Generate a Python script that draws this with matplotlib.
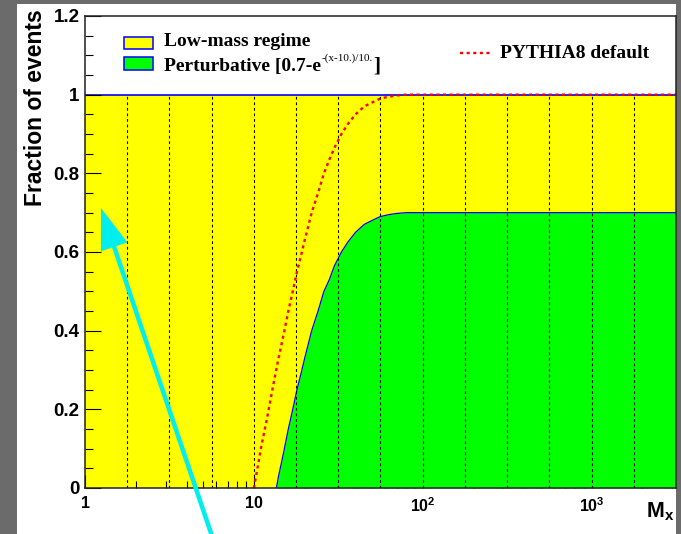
import matplotlib
matplotlib.use("Agg")
import matplotlib.pyplot as plt
from matplotlib.patches import Rectangle, FancyArrow
from matplotlib.lines import Line2D
from matplotlib.ticker import MultipleLocator, LogLocator, NullFormatter
from matplotlib.transforms import IdentityTransform

W, H = 681, 534

plt.rcParams["font.family"] = ["Liberation Sans", "DejaVu Sans"]
plt.rcParams["font.weight"] = "bold"
plt.rcParams["mathtext.fontset"] = "custom"
plt.rcParams["mathtext.rm"] = "Liberation Sans:bold"
plt.rcParams["mathtext.bf"] = "Liberation Sans:bold"

YELLOW = "#ffff00"
GREEN = "#00ff00"
BLUE = "#0000ff"
RED = "#ff0000"
CYAN = "#00eeee"

# x range of the histograms
x_lo, x_hi = 1.0, 10 ** 3.5

# PYTHIA8 default fraction (red dotted)
pythia_x = [10, 10.5, 11, 12, 13, 14, 15, 16, 17, 18, 19, 20, 22, 24, 26, 28, 30, 33, 36,
            40, 45, 50, 56, 63, 70, 80, 3162]
pythia_y = [0.0, 0.05, 0.10, 0.18, 0.26, 0.33, 0.39, 0.45, 0.50, 0.55, 0.59, 0.63, 0.70,
            0.75, 0.80, 0.835, 0.865, 0.90, 0.925, 0.95, 0.97, 0.98, 0.99, 0.995, 0.998,
            1.0, 1.0]

# perturbative fraction (green)
pert_x = [13.6, 14, 14.5, 15, 16, 17, 18, 19, 20, 22, 24, 26, 28, 30, 33, 36, 40, 45, 50,
          56, 63, 70, 80, 3162]
pert_y = [0.0, 0.03, 0.06, 0.09, 0.15, 0.20, 0.25, 0.29, 0.33, 0.40, 0.45, 0.50, 0.53,
          0.565, 0.60, 0.625, 0.65, 0.67, 0.68, 0.69, 0.695, 0.698, 0.70, 0.70]

# quarter-decade bin edges drawn as dashed lines
edges_x = [1.78, 3.16, 5.62, 10, 17.8, 31.6, 56.2, 100, 178, 316, 562, 1000, 1778]

y_ticks = [0, 0.2, 0.4, 0.6, 0.8, 1.0, 1.2]
y_ticklabels = ["0", "0.2", "0.4", "0.6", "0.8", "1", "1.2"]
x_ticks = [1, 10, 100, 1000]
x_ticklabels = ["1", "10", r"$\mathbf{10^{2}}$", r"$\mathbf{10^{3}}$"]


def fx(px):
    return px / W


def fy(py):
    return 1 - py / H


fig = plt.figure(figsize=(W / 100, H / 100), dpi=100, facecolor="#6b6b6b")
fig.patches.append(Rectangle((fx(17), 0), fx(676) - fx(17), fy(4), transform=fig.transFigure,
                             facecolor="white", edgecolor="none", zorder=-5))

ax = fig.add_axes([fx(85), fy(488), fx(676) - fx(85), fy(16) - fy(488)])
ax.set_xscale("log")
ax.set_xlim(x_lo, x_hi)
ax.set_ylim(0, 1.2)
ax.set_axisbelow(True)

# low-mass regime fills everything up to 1
ax.fill_between([x_lo, x_hi], 0, 1, color=YELLOW, lw=0, zorder=0.2)
ax.plot([x_lo, x_hi], [1, 1], color=BLUE, lw=1.2, zorder=0.3)

# perturbative part drawn over the axis ticks
ax.fill_between(pert_x, 0, pert_y, color=GREEN, lw=0, zorder=1)
ax.plot(pert_x, pert_y, color=BLUE, lw=0.9, zorder=1.1)

ax.vlines(edges_x, 0, 1, colors="black", lw=0.8, linestyles=(0, (2.5, 2.5)), zorder=1.5)

ax.plot(pythia_x, pythia_y, color=RED, lw=1.7, ls=(0, (1.3, 1.5)), zorder=2)

for s in ax.spines.values():
    s.set_linewidth(1.1)
    s.set_color("#222222")
    s.set_zorder(3)

ax.set_yticks(y_ticks)
ax.set_yticklabels(y_ticklabels)
ax.yaxis.set_minor_locator(MultipleLocator(0.05))
ax.set_xticks(x_ticks)
ax.set_xticklabels(x_ticklabels)
ax.xaxis.set_minor_locator(LogLocator(base=10, subs=range(2, 10)))
ax.xaxis.set_minor_formatter(NullFormatter())
ax.tick_params(axis="y", which="major", direction="in", length=11.5, width=0.8,
               labelsize=13.5, pad=4)
ax.tick_params(axis="y", which="minor", direction="in", length=5.8, width=0.8)
ax.tick_params(axis="x", which="major", direction="in", length=9.5, width=0.8,
               labelsize=11.5, pad=6)
ax.tick_params(axis="x", which="minor", direction="in", length=5, width=0.8)
ax.tick_params(top=False, right=False)

fig.text(fx(36), fy(9), "Fraction of events", rotation=90, ha="center", va="top",
         fontsize=16.5, fontweight="bold")
fig.text(fx(674), fy(517), r"M$_{\mathbf{x}}$", ha="right", va="baseline",
         fontsize=15.5, fontweight="bold")

# legend: fill boxes
for (top, bot), col in zip([(37, 49), (57, 70)], [YELLOW, GREEN]):
    fig.patches.append(Rectangle((fx(124), fy(bot)), fx(153) - fx(124), fy(top) - fy(bot),
                                 transform=fig.transFigure, facecolor=col,
                                 edgecolor=BLUE, lw=1.1, zorder=5))
serif = ["Liberation Serif", "DejaVu Serif"]
fig.text(fx(164), fy(46), "Low-mass regime", family=serif, fontsize=14,
         fontweight="bold", va="baseline")

# perturbative entry: base text, raised exponent, closing bracket
renderer = fig.canvas.get_renderer()
t_base = fig.text(fx(164), fy(70.5), "Perturbative [0.7-e", family=serif, fontsize=14,
                  fontweight="bold", va="baseline")
x_sup = t_base.get_window_extent(renderer).x1 + 0.5
t_sup = fig.text(x_sup / W, fy(61), "-(x-10.)/10.", family=serif, fontsize=8,
                 fontweight="normal", va="baseline")
x_br = t_sup.get_window_extent(renderer).x1 + 1
fig.text(x_br / W, fy(72), "]", family=serif, fontsize=15.5, fontweight="bold",
         va="baseline")

# legend: PYTHIA8 line
fig.lines.append(Line2D([fx(460), fx(490)], [fy(53), fy(53)], transform=fig.transFigure,
                        color=RED, lw=1.7, ls=(0, (1.3, 1.5))))
fig.text(fx(500), fy(57.5), "PYTHIA8 default", family=serif, fontsize=14,
         fontweight="bold", va="baseline")

# cyan pointer arrow (display pixels)
fig.patches.append(FancyArrow(214, -8, -113, 334, width=4.5, head_width=28, head_length=41,
                              length_includes_head=True, transform=IdentityTransform(),
                              color=CYAN, lw=0, zorder=10))

fig.savefig("out.png", dpi=100, facecolor=fig.get_facecolor())
